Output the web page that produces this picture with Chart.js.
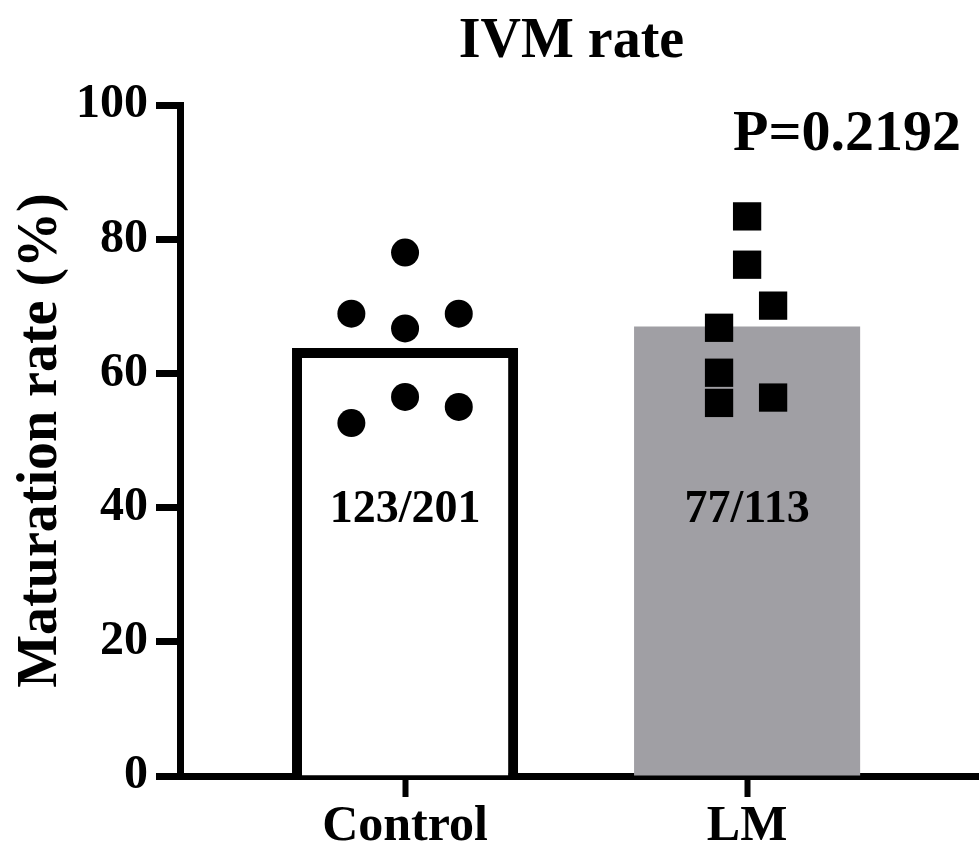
<!DOCTYPE html>
<html>
<head>
<meta charset="utf-8">
<script src="https://cdn.jsdelivr.net/npm/chart.js@4/dist/chart.umd.min.js"></script>
<style>
  html, body { margin: 0; padding: 0; background: #fff; }
  canvas { display: block; }
</style>
</head>
<body>
<canvas id="chart" width="979" height="851"></canvas>
<script>
// IVM rate: bar = group mean, dots = individual replicates

var categories = ['Control', 'LM'];
var barMeans = [63.8, 67.0];
var countLabels = ['123/201', '77/113'];
var pValueText = 'P=0.2192';

var controlValues = [78.0, 68.9, 66.7, 68.9, 56.5, 55.0, 52.6];
var controlJitter = [0, -0.157, 0, 0.157, 0, 0.157, -0.157];
var lmValues = [83.4, 76.2, 70.1, 66.8, 60.1, 55.6, 56.4];
var lmJitter = [0, 0, 0.076, -0.082, -0.082, -0.082, 0.076];

var yTicks = [0, 20, 40, 60, 80, 100];

var FONT = "'Liberation Serif', 'Times New Roman', serif";

function toPoints(center, values, jitter) {
    var pts = [];
    for (var i = 0; i < values.length; i++) {
        pts.push({x: center + jitter[i], y: values[i]});
    }
    return pts;
}

var barData = barMeans.map(function (v, i) {
    return {x: i + 1, y: v};
});

// title, n-counts and p value
var textPlugin = {
    id: 'ivmText',
    afterDatasetsDraw: function (chart) {
        var ctx = chart.ctx;
        var xs = chart.scales.x, ys = chart.scales.y;
        var area = chart.chartArea;
        ctx.save();
        ctx.fillStyle = '#000';

        ctx.font = 'bold 56px ' + FONT;
        ctx.textAlign = 'center';
        ctx.textBaseline = 'alphabetic';
        ctx.fillText('IVM rate', (area.left + area.right) / 2 - 8, 57);

        ctx.font = 'bold 46px ' + FONT;
        ctx.textBaseline = 'middle';
        countLabels.forEach(function (txt, i) {
            ctx.fillText(txt, xs.getPixelForValue(i + 1), ys.getPixelForValue(39.7));
        });

        ctx.font = 'bold 58px ' + FONT;
        ctx.textAlign = 'right';
        ctx.textBaseline = 'alphabetic';
        ctx.fillText(pValueText, area.right - 18, 150);
        ctx.restore();
    }
};

new Chart(document.getElementById('chart'), {
    type: 'bar',
    data: {
        datasets: [
            {
                type: 'scatter',
                label: 'Control',
                data: toPoints(1, controlValues, controlJitter),
                pointStyle: 'circle',
                pointRadius: 14,
                pointBackgroundColor: '#000',
                pointBorderWidth: 0,
                order: 0
            },
            {
                type: 'scatter',
                label: 'LM',
                data: toPoints(2, lmValues, lmJitter),
                pointStyle: 'rect',
                pointRadius: 20,
                pointBackgroundColor: '#000',
                pointBorderWidth: 0,
                order: 0
            },
            {
                type: 'bar',
                label: 'Mean',
                data: barData,
                backgroundColor: ['#ffffff', '#a09fa4'],
                borderColor: ['#000000', 'rgba(0,0,0,0)'],
                borderWidth: [10, 0],
                borderSkipped: 'bottom',
                barPercentage: 0.661,
                categoryPercentage: 1,
                order: 1
            }
        ]
    },
    options: {
        responsive: false,
        animation: false,
        devicePixelRatio: 1,
        layout: {autoPadding: false, padding: {top: 105, left: 0, right: 0, bottom: 0}},
        plugins: {
            legend: {display: false},
            tooltip: {enabled: false},
            title: {display: false}
        },
        scales: {
            x: {
                type: 'linear',
                min: 0.342,
                max: 2.678,
                offset: false,
                afterFit: function (scale) { scale.height = 75; },
                afterBuildTicks: function (scale) {
                    scale.ticks = categories.map(function (c, i) { return {value: i + 1}; });
                },
                ticks: {
                    color: '#000',
                    padding: 0,
                    maxRotation: 0,
                    font: {family: FONT, size: 50, weight: 'bold'},
                    callback: function (v) { return categories[v - 1]; }
                },
                grid: {
                    offset: false,
                    drawOnChartArea: false,
                    tickLength: 21,
                    tickWidth: 6,
                    tickColor: '#000'
                },
                border: {color: '#000', width: 7}
            },
            y: {
                min: 0,
                max: 100,
                afterFit: function (scale) { scale.width = 180; },
                afterBuildTicks: function (scale) {
                    scale.ticks = yTicks.map(function (v) { return {value: v}; });
                },
                ticks: {
                    color: '#000',
                    padding: 8,
                    font: {family: FONT, size: 48, weight: 'bold'}
                },
                grid: {
                    drawOnChartArea: false,
                    tickLength: 24,
                    tickWidth: 7,
                    tickColor: '#000'
                },
                border: {color: '#000', width: 7},
                title: {
                    display: true,
                    text: 'Maturation rate (%)',
                    color: '#000',
                    padding: {top: 8, bottom: 0},
                    font: {family: FONT, size: 56, weight: 'bold'}
                }
            }
        }
    },
    plugins: [textPlugin]
});
</script>
</body>
</html>
